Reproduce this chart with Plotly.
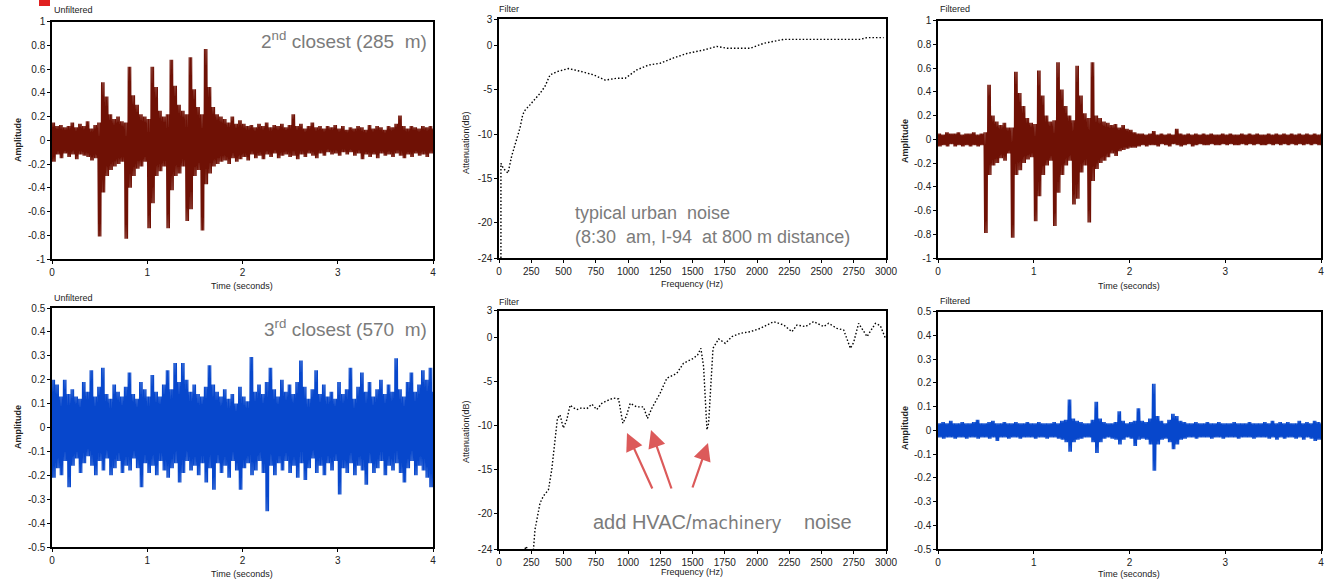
import numpy as np
import plotly.graph_objects as go

W, H = 1329, 588

# ---------------- data ----------------
STEP = 0.04  # seconds per envelope window (window maximum and minimum)

TIME_TICKS = [0, 1, 2, 3, 4]
AMP1_TICKS = [1, 0.8, 0.6, 0.4, 0.2, 0, -0.2, -0.4, -0.6, -0.8, -1]
AMP1_TEXT = ["1", "0.8", "0.6", "0.4", "0.2", "0", "-0.2", "-0.4", "-0.6", "-0.8", "-1"]
AMP2_TICKS = [0.5, 0.4, 0.3, 0.2, 0.1, 0, -0.1, -0.2, -0.3, -0.4, -0.5]
AMP2_TEXT = ["0.5", "0.4", "0.3", "0.2", "0.1", "0", "-0.1", "-0.2", "-0.3", "-0.4", "-0.5"]
ATT_TICKS = [3, 0, -5, -10, -15, -20, -24]
ATT_TEXT = ["3", "0", "-5", "-10", "-15", "-20", "-24"]
FREQ_TICKS = [0, 250, 500, 750, 1000, 1250, 1500, 1750, 2000, 2250, 2500, 2750, 3000]

# 2nd closest, unfiltered (window maxima / minima)
TL_HI = [0.15, 0.12, 0.13, 0.11, 0.12, 0.15, 0.11, 0.14, 0.12, 0.16,
         0.10, 0.13, 0.15, 0.49, 0.37, 0.22, 0.18, 0.20, 0.16, 0.15,
         0.62, 0.38, 0.30, 0.22, 0.20, 0.18, 0.62, 0.45, 0.25, 0.20,
         0.22, 0.68, 0.46, 0.30, 0.25, 0.22, 0.70, 0.43, 0.28, 0.22,
         0.77, 0.45, 0.28, 0.22, 0.20, 0.18, 0.15, 0.20, 0.14, 0.17,
         0.14, 0.12, 0.13, 0.11, 0.14, 0.12, 0.15, 0.11, 0.13, 0.12,
         0.14, 0.11, 0.13, 0.22, 0.12, 0.14, 0.10, 0.12, 0.15, 0.11,
         0.12, 0.10, 0.12, 0.11, 0.13, 0.10, 0.12, 0.09, 0.11, 0.10,
         0.12, 0.11, 0.09, 0.13, 0.10, 0.12, 0.11, 0.09, 0.12, 0.11,
         0.14, 0.21, 0.12, 0.10, 0.12, 0.11, 0.10, 0.12, 0.11, 0.12,
         0.10]
TL_LO = [-0.18, -0.12, -0.15, -0.11, -0.14, -0.12, -0.16, -0.12, -0.13, -0.14,
         -0.17, -0.15, -0.81, -0.44, -0.30, -0.25, -0.22, -0.20, -0.18, -0.83,
         -0.40, -0.30, -0.24, -0.22, -0.18, -0.74, -0.53, -0.30, -0.26, -0.22,
         -0.74, -0.42, -0.30, -0.28, -0.22, -0.68, -0.58, -0.30, -0.25, -0.76,
         -0.37, -0.28, -0.22, -0.20, -0.18, -0.17, -0.20, -0.15, -0.18, -0.16,
         -0.14, -0.17, -0.12, -0.15, -0.13, -0.16, -0.12, -0.14, -0.11, -0.15,
         -0.13, -0.12, -0.14, -0.13, -0.16, -0.12, -0.14, -0.11, -0.13, -0.15,
         -0.11, -0.13, -0.10, -0.12, -0.11, -0.13, -0.10, -0.12, -0.10, -0.13,
         -0.11, -0.16, -0.12, -0.14, -0.12, -0.15, -0.11, -0.13, -0.12, -0.14,
         -0.11, -0.13, -0.15, -0.12, -0.14, -0.11, -0.13, -0.12, -0.14, -0.11,
         -0.12]

# 2nd closest, filtered
TR_HI = [0.05, 0.04, 0.06, 0.05, 0.05, 0.06, 0.04, 0.05, 0.05, 0.06,
         0.04, 0.05, 0.06, 0.46, 0.20, 0.15, 0.12, 0.14, 0.10, 0.10,
         0.57, 0.39, 0.28, 0.18, 0.14, 0.13, 0.58, 0.37, 0.20, 0.15,
         0.16, 0.65, 0.42, 0.28, 0.20, 0.16, 0.62, 0.37, 0.22, 0.18,
         0.65, 0.20, 0.18, 0.15, 0.14, 0.12, 0.13, 0.10, 0.12, 0.09,
         0.08, 0.06, 0.05, 0.05, 0.04, 0.05, 0.07, 0.04, 0.05, 0.04,
         0.05, 0.04, 0.09, 0.05, 0.04, 0.05, 0.04, 0.05, 0.04, 0.05,
         0.04, 0.05, 0.04, 0.04, 0.05, 0.04, 0.05, 0.04, 0.04, 0.05,
         0.04, 0.05, 0.04, 0.05, 0.04, 0.04, 0.05, 0.04, 0.05, 0.04,
         0.05, 0.04, 0.05, 0.04, 0.05, 0.04, 0.05, 0.04, 0.05, 0.04,
         0.05]
TR_LO = [-0.06, -0.05, -0.06, -0.04, -0.06, -0.05, -0.06, -0.05, -0.06, -0.05,
         -0.06, -0.05, -0.79, -0.30, -0.22, -0.20, -0.16, -0.18, -0.12, -0.83,
         -0.30, -0.26, -0.20, -0.17, -0.15, -0.69, -0.48, -0.30, -0.22, -0.18,
         -0.73, -0.45, -0.30, -0.22, -0.18, -0.55, -0.50, -0.28, -0.22, -0.70,
         -0.35, -0.25, -0.20, -0.18, -0.15, -0.12, -0.14, -0.10, -0.09, -0.08,
         -0.07, -0.07, -0.06, -0.05, -0.06, -0.05, -0.05, -0.06, -0.04, -0.05,
         -0.06, -0.04, -0.05, -0.06, -0.05, -0.04, -0.06, -0.05, -0.04, -0.05,
         -0.05, -0.04, -0.05, -0.05, -0.04, -0.05, -0.04, -0.05, -0.05, -0.04,
         -0.05, -0.04, -0.05, -0.04, -0.05, -0.05, -0.04, -0.05, -0.04, -0.05,
         -0.04, -0.05, -0.04, -0.05, -0.04, -0.05, -0.04, -0.05, -0.04, -0.05,
         -0.04]

# 3rd closest, unfiltered
BL_HI = [0.20, 0.18, 0.13, 0.20, 0.14, 0.16, 0.13, 0.12, 0.19, 0.15,
         0.24, 0.13, 0.17, 0.25, 0.14, 0.12, 0.18, 0.15, 0.13, 0.17,
         0.23, 0.14, 0.12, 0.19, 0.16, 0.13, 0.22, 0.15, 0.13, 0.18,
         0.24, 0.16, 0.27, 0.19, 0.27, 0.20, 0.15, 0.18, 0.14, 0.13,
         0.17, 0.26, 0.18, 0.15, 0.13, 0.16, 0.12, 0.14, 0.10, 0.17,
         0.13, 0.11, 0.295, 0.15, 0.18, 0.14, 0.19, 0.25, 0.16, 0.13,
         0.20, 0.15, 0.18, 0.14, 0.19, 0.28, 0.17, 0.12, 0.16, 0.24,
         0.14, 0.18, 0.13, 0.15, 0.12, 0.19, 0.14, 0.16, 0.25, 0.12,
         0.17, 0.23, 0.15, 0.19, 0.13, 0.16, 0.20, 0.14, 0.18, 0.15,
         0.29, 0.16, 0.13, 0.19, 0.23, 0.15, 0.18, 0.24, 0.20, 0.25,
         0.15]
BL_LO = [-0.21, -0.17, -0.20, -0.14, -0.25, -0.16, -0.13, -0.19, -0.15, -0.12,
         -0.16, -0.20, -0.14, -0.18, -0.13, -0.20, -0.17, -0.14, -0.19, -0.16,
         -0.18, -0.13, -0.17, -0.25, -0.15, -0.19, -0.16, -0.20, -0.14, -0.18,
         -0.21, -0.17, -0.15, -0.23, -0.19, -0.14, -0.18, -0.16, -0.20, -0.15,
         -0.23, -0.17, -0.26, -0.15, -0.19, -0.16, -0.21, -0.14, -0.18, -0.26,
         -0.17, -0.15, -0.20, -0.18, -0.14, -0.19, -0.35, -0.16, -0.20, -0.15,
         -0.18, -0.14, -0.19, -0.16, -0.21, -0.15, -0.22, -0.17, -0.13, -0.19,
         -0.16, -0.20, -0.15, -0.18, -0.14, -0.28, -0.17, -0.19, -0.15, -0.20,
         -0.16, -0.18, -0.24, -0.15, -0.19, -0.17, -0.14, -0.20, -0.16, -0.18,
         -0.15, -0.19, -0.23, -0.17, -0.14, -0.20, -0.16, -0.18, -0.21, -0.25,
         -0.17]

# 3rd closest, filtered
BR_HI = [0.03, 0.035, 0.03, 0.04, 0.03, 0.03, 0.035, 0.03, 0.03, 0.035,
         0.045, 0.03, 0.03, 0.035, 0.04, 0.03, 0.03, 0.035, 0.03, 0.03,
         0.035, 0.03, 0.03, 0.035, 0.03, 0.03, 0.035, 0.03, 0.03, 0.03,
         0.035, 0.03, 0.04, 0.045, 0.13, 0.05, 0.04, 0.035, 0.03, 0.03,
         0.045, 0.12, 0.05, 0.035, 0.03, 0.03, 0.035, 0.08, 0.04, 0.03,
         0.035, 0.04, 0.093, 0.04, 0.035, 0.05, 0.196, 0.06, 0.04, 0.03,
         0.045, 0.07, 0.06, 0.04, 0.035, 0.03, 0.03, 0.035, 0.03, 0.03,
         0.035, 0.03, 0.03, 0.035, 0.03, 0.03, 0.03, 0.035, 0.03, 0.03,
         0.03, 0.035, 0.03, 0.03, 0.03, 0.035, 0.03, 0.04, 0.03, 0.035,
         0.03, 0.035, 0.03, 0.03, 0.04, 0.03, 0.035, 0.03, 0.04, 0.035,
         0.03]
BR_LO = [-0.03, -0.035, -0.03, -0.03, -0.035, -0.03, -0.03, -0.035, -0.03, -0.03,
         -0.035, -0.03, -0.03, -0.035, -0.03, -0.045, -0.03, -0.03, -0.035, -0.03,
         -0.03, -0.035, -0.03, -0.03, -0.03, -0.035, -0.03, -0.03, -0.035, -0.03,
         -0.03, -0.035, -0.04, -0.05, -0.09, -0.05, -0.04, -0.035, -0.03, -0.03,
         -0.05, -0.095, -0.05, -0.035, -0.03, -0.035, -0.04, -0.06, -0.04, -0.03,
         -0.035, -0.066, -0.04, -0.035, -0.04, -0.06, -0.17, -0.06, -0.04, -0.035,
         -0.05, -0.08, -0.06, -0.04, -0.035, -0.03, -0.03, -0.035, -0.03, -0.03,
         -0.03, -0.035, -0.03, -0.03, -0.035, -0.03, -0.03, -0.03, -0.035, -0.03,
         -0.03, -0.03, -0.035, -0.03, -0.03, -0.03, -0.035, -0.03, -0.04, -0.03,
         -0.035, -0.03, -0.03, -0.035, -0.03, -0.04, -0.03, -0.035, -0.045, -0.04,
         -0.03]

# filter curves
FILT1_FREQ = [15, 15, 15, 35, 70, 98, 137, 163, 184, 202, 240, 279, 318, 357, 396, 460,
              538, 628, 732, 822, 913, 978, 1068, 1159, 1249, 1353, 1456, 1586, 1689,
              1767, 1948, 2052, 2129, 2207, 2387, 2646, 2801, 2853, 2982]
FILT1_ATT = [-24, -18, -13.3, -13.9, -14.4, -12.5, -10.65, -9.3, -7.8, -7.3, -6.7, -6.1,
             -5.4, -4.6, -3.3, -2.9, -2.6, -2.9, -3.3, -3.9, -3.7, -3.7, -2.75, -2.2,
             -2.0, -1.4, -0.9, -0.5, -0.1, -0.3, -0.3, 0.25, 0.45, 0.7, 0.7, 0.7, 0.7,
             0.9, 0.9]

FILT2_FREQ = [202, 210, 240, 266, 279, 318, 344, 383, 409, 434, 453, 473, 499, 525, 551,
              577, 603, 642, 681, 720, 758, 797, 836, 888, 927, 960, 986, 1017, 1068,
              1120, 1151, 1185, 1249, 1301, 1340, 1378, 1430, 1469, 1508, 1540, 1565,
              1586, 1599, 1612, 1625, 1638, 1659, 1703, 1754, 1806, 1871, 1948, 2026,
              2129, 2207, 2271, 2310, 2375, 2439, 2517, 2555, 2620, 2672, 2724, 2749,
              2788, 2853, 2918, 2956, 2995]
FILT2_ATT = [-24.0, -23.7, -24.6, -24.3, -21.8, -18.8, -18.0, -17.3, -15.0, -11.6, -9.2,
             -8.8, -10.3, -9.4, -7.7, -8.0, -8.2, -8.0, -8.1, -7.6, -8.2, -7.5, -7.2,
             -6.9, -7.0, -9.75, -9.0, -7.5, -7.9, -7.9, -9.2, -8.05, -6.35, -4.65,
             -4.4, -4.1, -2.96, -2.7, -2.39, -2.0, -1.26, -3.34, -7.4, -10.5, -9.75,
             -5.97, -1.26, -0.2, -0.7, 0.06, 0.44, 0.62, 1.0, 1.76, 1.38, 0.62, 1.38,
             1.2, 1.76, 1.2, 1.57, 1.0, 0.81, -1.26, -0.6, 1.57, 0.06, 1.57, 1.3, -0.1]

# ---------------- styling ----------------
RED = "#6f1105"
BLUE = "#0747cc"
GREY = "#7b7b7b"
FONT = "Liberation Sans, Arial, sans-serif"


def px(x):
    return x / W


def py(y):
    return 1 - y / H


def zigzag(hi, lo, reps=3):
    """Each window's max/min pair drawn as `reps` up-down strokes across the window."""
    sub = STEP / (2 * reps)
    xs, ys = [], []
    for i, (h, l) in enumerate(zip(hi, lo)):
        t0 = i * STEP
        for r in range(reps):
            xs += [t0 + 2 * r * sub, t0 + (2 * r + 1) * sub]
            ys += [h, l]
    return xs, ys


fig = go.Figure()

waves = [(TL_HI, TL_LO, RED, "x", "y"),
         (TR_HI, TR_LO, RED, "x3", "y3"),
         (BL_HI, BL_LO, BLUE, "x4", "y4"),
         (BR_HI, BR_LO, BLUE, "x6", "y6")]
for hi, lo, col, xa, ya in waves:
    xs, ys = zigzag(hi, lo)
    fig.add_trace(go.Scatter(x=xs, y=ys, mode="lines", xaxis=xa, yaxis=ya,
                             line=dict(color=col, width=1.1), showlegend=False,
                             hoverinfo="skip"))

for fx, fy, xa, ya in [(FILT1_FREQ, FILT1_ATT, "x2", "y2"), (FILT2_FREQ, FILT2_ATT, "x5", "y5")]:
    fig.add_trace(go.Scatter(x=fx, y=fy, mode="lines", xaxis=xa, yaxis=ya,
                             line=dict(color="black", width=1.4, dash="1.5px,2px"),
                             showlegend=False, hoverinfo="skip"))

# panel boxes (pixels: left, right, top, bottom)
boxes = {
    1: (52, 433, 21.7, 259),
    2: (499, 886, 19, 258),
    3: (938, 1321, 20.7, 258),
    4: (52, 433, 308, 547),
    5: (499, 886, 310.7, 549),
    6: (938, 1321, 311.7, 549),
}

base_ax = dict(showline=True, linecolor="black", linewidth=1.5, mirror=True,
               ticks="outside", ticklen=3, tickwidth=1, tickcolor="black",
               showgrid=False, zeroline=False, fixedrange=True,
               tickfont=dict(family=FONT, size=10, color="#222"))

layout_axes = {}
for k, (l, r, t, b) in boxes.items():
    xs = "xaxis" if k == 1 else f"xaxis{k}"
    ys = "yaxis" if k == 1 else f"yaxis{k}"
    xa = dict(base_ax, domain=[px(l), px(r)], anchor="y" if k == 1 else f"y{k}")
    ya = dict(base_ax, domain=[py(b), py(t)], anchor="x" if k == 1 else f"x{k}")
    if k in (2, 5):
        xa.update(range=[0, 3000], tickvals=FREQ_TICKS)
        ya.update(range=[-24, 3], tickvals=ATT_TICKS, ticktext=ATT_TEXT)
    else:
        xa.update(range=[0, 4], tickvals=TIME_TICKS)
        if k in (1, 3):
            ya.update(range=[-1, 1], tickvals=AMP1_TICKS, ticktext=AMP1_TEXT)
        else:
            ya.update(range=[-0.5, 0.5], tickvals=AMP2_TICKS, ticktext=AMP2_TEXT)
    layout_axes[xs] = xa
    layout_axes[ys] = ya

fig.update_layout(width=W, height=H, margin=dict(l=0, r=0, t=0, b=0, autoexpand=False),
                  paper_bgcolor="white", plot_bgcolor="white", **layout_axes)

ann = []


def txt(x, y, s, size=9, color="#222", xanchor="center", angle=0, yanchor="middle"):
    ann.append(dict(x=px(x), y=py(y), xref="paper", yref="paper", text=s,
                    showarrow=False, xanchor=xanchor, yanchor=yanchor, textangle=angle,
                    font=dict(family=FONT, size=size, color=color)))


# panel titles
txt(52, 10, "Unfiltered", xanchor="left")
txt(497, 9, "Filter", xanchor="left")
txt(938, 9, "Filtered", xanchor="left")
txt(52, 298, "Unfiltered", xanchor="left")
txt(497, 302, "Filter", xanchor="left")
txt(938, 301, "Filtered", xanchor="left")

# axis titles
for yc in (140, 427):
    txt(18, yc, "<b>Amplitude</b>", size=9, angle=-90)
    txt(905, yc + 1, "<b>Amplitude</b>", size=9, angle=-90)
for yc in (143, 432):
    txt(466, yc, "Attenuation(dB)", size=9, angle=-90)
for yc in (286, 574):
    txt(242, yc, "Time (seconds)", size=9)
    txt(1129, yc, "Time (seconds)", size=9)
    txt(692, yc - 2, "Frequency (Hz)", size=9)

# big grey labels
txt(429, 40, "2<sup>nd</sup> closest (285&nbsp; m)", size=19, color=GREY, xanchor="right")
txt(429, 328, "3<sup>rd</sup> closest (570&nbsp; m)", size=19, color=GREY, xanchor="right")
txt(573, 213, "typical urban&nbsp; noise", size=18, color=GREY, xanchor="left")
txt(573, 237, "(8:30&nbsp; am, I-94&nbsp; at 800 m distance)", size=18, color=GREY, xanchor="left")
txt(591, 522, "add HVAC/<span style=\"font-family:'DejaVu Sans';font-size:17px\">machinery</span>"
              "&nbsp;&nbsp;&nbsp; noise",
    size=20, color=GREY, xanchor="left")

# red arrows
for tip, tail in [((627, 433), (653, 490)), ((651, 430), (672, 490)), ((708, 443), (692, 489))]:
    ann.append(dict(x=px(tip[0]), y=py(tip[1]), xref="paper", yref="paper", text="",
                    showarrow=True, ax=tail[0] - tip[0], ay=tail[1] - tip[1],
                    arrowhead=2, arrowsize=1.6, arrowwidth=2.2,
                    arrowcolor="rgba(214,62,62,0.85)"))

fig.update_layout(annotations=ann)

# small red marker top-left
fig.add_shape(type="rect", xref="paper", yref="paper", x0=px(39), x1=px(50),
              y0=py(6), y1=py(0), fillcolor="#e02020", line=dict(width=0))

fig.write_html("out.html", config={"displayModeBar": False},
               post_script="document.body.style.margin='0';document.body.style.overflow='hidden';")
